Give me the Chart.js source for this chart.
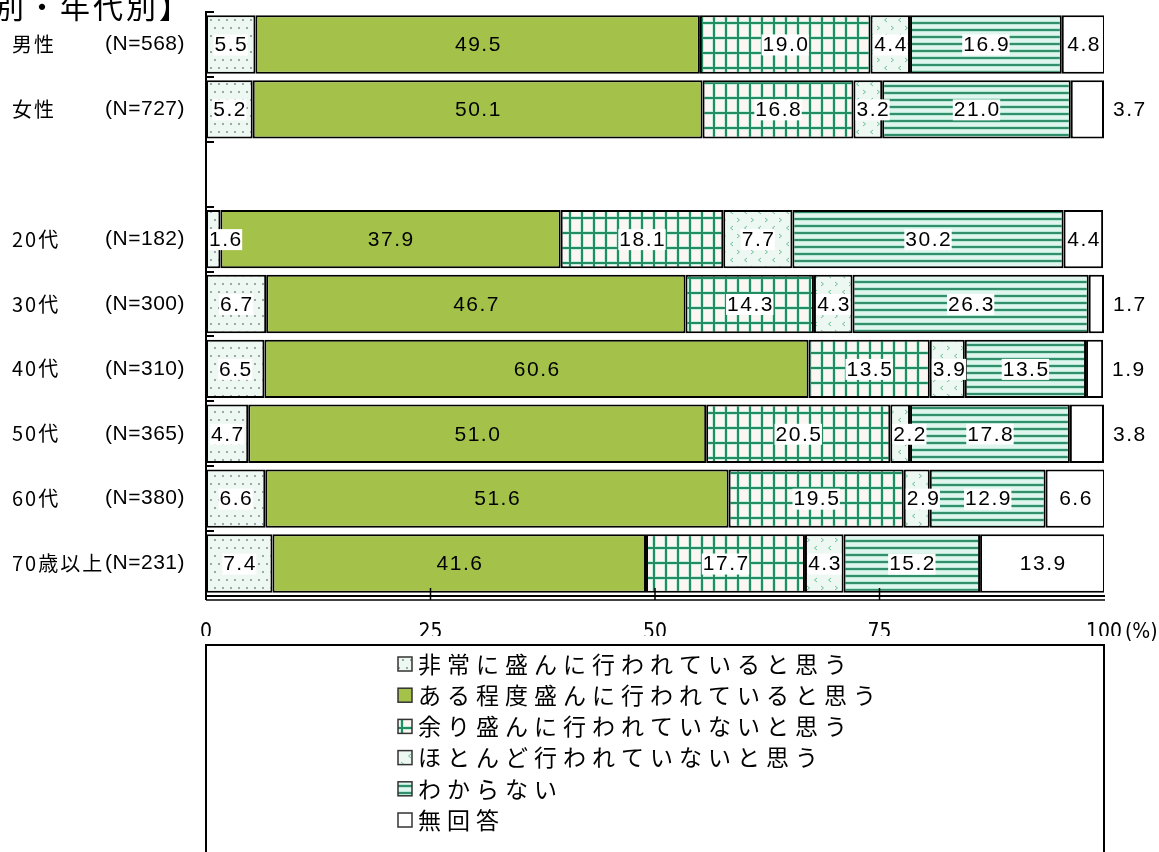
<!DOCTYPE html>
<html><head><meta charset="utf-8">
<script src="https://cdn.jsdelivr.net/npm/chart.js@4.4.1/dist/chart.umd.min.js"></script>
<style>html,body{margin:0;padding:0;background:#fff;overflow:hidden}</style>
</head><body>
<canvas id="c" width="1159" height="852"></canvas>
<script>
// ---- data ----
const categories = ['男性','女性','','20代','30代','40代','50代','60代','70歳以上'];
const sampleSizes = ['(N=568)','(N=727)','','(N=182)','(N=300)','(N=310)','(N=365)','(N=380)','(N=231)'];
const seriesNames = ['非常に盛んに行われていると思う','ある程度盛んに行われていると思う','余り盛んに行われていないと思う','ほとんど行われていないと思う','わからない','無回答'];
const sVery   = [5.5, 5.2, null, 1.6, 6.7, 6.5, 4.7, 6.6, 7.4];
const sSome   = [49.5,50.1,null,37.9,46.7,60.6,51.0,51.6,41.6];
const sLittle = [19.0,16.8,null,18.1,14.3,13.5,20.5,19.5,17.7];
const sHardly = [4.4, 3.2, null, 7.7, 4.3, 3.9, 2.2, 2.9, 4.3];
const sUnknown= [16.9,21.0,null,30.2,26.3,13.5,17.8,12.9,15.2];
const sNoAns  = [4.8, 3.7, null, 4.4, 1.7, 1.9, 3.8, 6.6, 13.9];
const xTicks = [0,25,50,75,100];
const titleText = '【性別・年代別】';
const unitText = '(%)';

const canvas = document.getElementById('c');
const ctx = canvas.getContext('2d');

function mk(w,h,draw){const c=document.createElement('canvas');c.width=w;c.height=h;const g=c.getContext('2d');draw(g,w,h);return ctx.createPattern(c,'repeat');}
const patDots = mk(8,16,(g,w,h)=>{g.fillStyle='#eef8f3';g.fillRect(0,0,w,h);g.fillStyle='#9ca8a1';g.fillRect(2,3,2,2);g.fillRect(6,11,2,2);});
const patGrid = mk(12,15,(g,w,h)=>{g.fillStyle='#fcf6f2';g.fillRect(0,0,w,h);
  g.fillStyle='#c4efe0';g.fillRect(4,0,4,h);g.fillRect(0,6,w,4);
  g.fillStyle='#238c60';g.fillRect(5,0,2,h);g.fillRect(0,7,w,2);});
const patChev = mk(14,16,(g,w,h)=>{g.fillStyle='#eef8f3';g.fillRect(0,0,w,h);g.strokeStyle='#6fbf98';g.lineWidth=1;
  g.beginPath();g.moveTo(5,2);g.lineTo(2.5,4);g.lineTo(5,6);g.stroke();
  g.beginPath();g.moveTo(9,10);g.lineTo(11.5,12);g.lineTo(9,14);g.stroke();});
const patStripe = mk(6,7,(g,w,h)=>{g.fillStyle='#f3fbf8';g.fillRect(0,0,w,h);g.fillStyle='#b8e8d6';g.fillRect(0,0,w,4);g.fillStyle='#dff5ed';g.fillRect(0,4,w,3);g.fillStyle='#338f6b';g.fillRect(0,1,w,2);});
const fills = [patDots,'#a4c24a',patGrid,patChev,patStripe,'#ffffff'];
const seriesData = [sVery,sSome,sLittle,sHardly,sUnknown,sNoAns];

const JP = '"Noto Sans CJK JP","Noto Sans",sans-serif';
const NUM = '"Liberation Sans",Arial,sans-serif';
const NARROW = '"Liberation Sans Narrow","DejaVu Sans Condensed",sans-serif';

const decor = {
  id:'decor',
  afterDatasetsDraw(chart){
    const c=chart.ctx;
    c.save();
    c.font='21px '+NUM; c.letterSpacing='1.5px';
    c.textBaseline='middle'; c.textAlign='left';
    chart.data.datasets.forEach((ds,di)=>{
      chart.getDatasetMeta(di).data.forEach((bar,i)=>{
        const v=ds.data[i]; if(v==null) return;
        const t=v.toFixed(1);
        const L=Math.min(bar.x,bar.base), R=Math.max(bar.x,bar.base);
        const w=c.measureText(t).width-1.5;
        let cx=(L+R)/2;
        if(di===5 && v<4) cx=R+9+w/2; else cx=Math.max(cx,L+3+w/2);
        if(di!==1 && di!==5){c.fillStyle='#fff';c.fillRect(cx-w/2-1,bar.y-10,w+2,21);}
        c.fillStyle='#000'; c.fillText(t,cx-w/2,bar.y+1);
      });
    });
    c.restore();
  },
  afterDraw(chart){
    const c=chart.ctx, a=chart.chartArea, y=chart.scales.y, x=chart.scales.x;
    c.save();
    c.strokeStyle='#000'; c.lineWidth=2;
    c.beginPath(); c.moveTo(a.left,a.top-1); c.lineTo(a.left,a.bottom+4); c.stroke();
    const n=categories.length, rh=(a.bottom-a.top)/n;
    for(let i=0;i<n;i++){const yy=Math.round(a.top+i*rh); c.beginPath(); c.moveTo(a.left,yy); c.lineTo(a.left+8,yy); c.stroke();}
    c.beginPath(); c.moveTo(a.left,a.bottom); c.lineTo(a.right+1,a.bottom); c.stroke();
    c.lineWidth=1.5;
    c.beginPath(); c.moveTo(a.left,a.bottom+4); c.lineTo(a.right+1,a.bottom+4); c.stroke();
    [25,50,75].forEach(v=>{const xx=x.getPixelForValue(v); c.beginPath(); c.moveTo(xx,a.bottom-8); c.lineTo(xx,a.bottom+4); c.stroke();});
    c.fillStyle='#000'; c.textBaseline='middle';
    categories.forEach((lab,i)=>{
      if(!lab) return;
      const yy=y.getPixelForValue(i);
      c.font='20px '+JP; c.letterSpacing='2px'; c.textAlign='left';
      c.fillText(lab,12,yy);
      c.font='21px '+NUM; c.letterSpacing='0.5px'; c.textAlign='right';
      c.fillText(sampleSizes[i],185,yy);
    });
    c.font='21px '+NARROW; c.textAlign='left'; c.letterSpacing='0px';
    c.fillText(unitText,1125,633);
    c.font='30px '+JP; c.letterSpacing='3px'; c.textBaseline='alphabetic';
    c.fillText(titleText,-72,18);
    c.lineWidth=2; c.strokeStyle='#000';
    c.strokeRect(a.left,645,a.right-a.left,260);
    c.font='23px '+JP; c.letterSpacing='6px'; c.textBaseline='middle';
    seriesNames.forEach((nm,i)=>{
      const yy=664+i*31.2;
      c.fillStyle=fills[i]; c.fillRect(398,yy-7,14,14);
      c.lineWidth=1.5; c.strokeStyle='#333'; c.strokeRect(398,yy-7,14,14);
      c.fillStyle='#000'; c.fillText(nm,418,yy);
    });
    c.restore();
  }
};

new Chart(ctx,{
  type:'bar',
  data:{labels:categories,datasets:seriesNames.map((nm,i)=>({label:nm,data:seriesData[i],backgroundColor:fills[i],borderColor:'#000',borderWidth:2,borderSkipped:false,barPercentage:0.9,categoryPercentage:1}))},
  options:{
    indexAxis:'y',responsive:false,animation:false,devicePixelRatio:1,
    layout:{padding:{left:0,right:55,top:12,bottom:216}},
    plugins:{legend:{display:false},tooltip:{enabled:false}},
    scales:{
      x:{stacked:true,min:0,max:100,afterBuildTicks:s=>{s.ticks=xTicks.map(v=>({value:v}));},
         afterFit:s=>{s.height=40;},
         ticks:{color:'#000',font:{family:NARROW,size:21},padding:24,maxRotation:0},
         grid:{display:false,drawTicks:false},border:{display:false}},
      y:{stacked:true,afterFit:s=>{s.width=206;},ticks:{display:false},grid:{display:false,drawTicks:false},border:{display:false}}
    }
  },
  plugins:[decor]
});
</script>
</body></html>
